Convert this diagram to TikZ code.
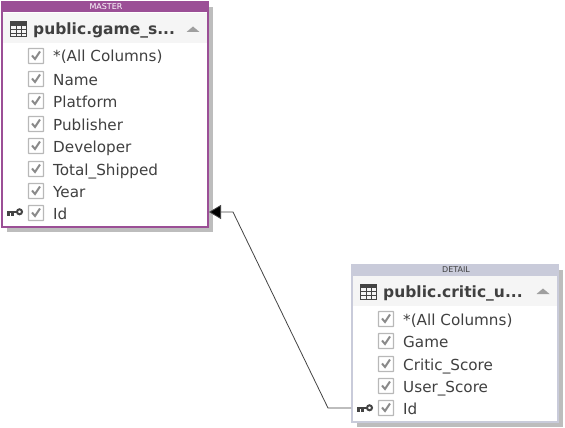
\documentclass[tikz,border=0pt]{standalone}
\usepackage{fontspec}
\setmainfont{DejaVu Sans}
\usetikzlibrary{arrows.meta}
\definecolor{masterc}{HTML}{9B4F96}
\definecolor{detailc}{HTML}{C9CBDA}
\definecolor{shadowc}{HTML}{BDBDBD}
\definecolor{bandc}{HTML}{F5F5F5}
\definecolor{textc}{HTML}{404040}
\definecolor{iconc}{HTML}{444444}
\definecolor{boxc}{HTML}{B8B8B8}
\definecolor{checkc}{HTML}{8A8A8A}
\tikzset{
  x=1pt,y=-1pt,
  colname/.style={anchor=base west,inner sep=0pt,font=\fontsize{15.2}{17}\selectfont,text=textc},
  titlename/.style={anchor=base west,inner sep=0pt,font=\fontsize{15.5}{18}\selectfont\bfseries,text=textc},
  caption/.style={inner sep=0pt,font=\fontsize{8}{9}\selectfont},
  link/.style={draw=iconc,line width=0.8pt},
}
% \chk{x}{y}: check box with centre x,y
\newcommand{\chk}[2]{%
  \draw[boxc,line width=1.2pt,fill=white,rounded corners=0.5pt] (#1-7.5,#2-7.5) rectangle (#1+7.5,#2+7.5);
  \draw[checkc,line width=2pt] (#1-4,#2-0.5) -- (#1-1,#2+3) -- (#1+4,#2-4.5);
}
% \tabicon{x}{y}: grid icon with upper left corner x,y
\newcommand{\tabicon}[2]{%
  \fill[iconc] (#1,#2) rectangle (#1+17,#2+4);
  \draw[iconc,line width=1pt] (#1+0.5,#2) rectangle (#1+16.5,#2+15);
  \draw[iconc,line width=0.8pt] (#1,#2+7) -- (#1+17,#2+7) (#1,#2+11) -- (#1+17,#2+11)
     (#1+6,#2+3) -- (#1+6,#2+15) (#1+11,#2+3) -- (#1+11,#2+15);
}
% \keyicon{x}{y}: key whose bow is at right, centre line y, left end x
\newcommand{\keyicon}[2]{%
  \fill[iconc] (#1,#2-1.5) rectangle (#1+11,#2+1);
  \fill[iconc] (#1,#2) rectangle (#1+2.5,#2+3.5);
  \fill[iconc] (#1+4,#2) rectangle (#1+6.5,#2+3.5);
  \draw[iconc,line width=2pt] (#1+12.5,#2-0.2) circle[radius=2.5];
}
\newcommand{\caret}[2]{%
  \fill[gray!75] (#1-6.5,#2+3) -- (#1,#2-2.5) -- (#1+6.5,#2+3) -- cycle;
}
\begin{document}
\begin{tikzpicture}
\useasboundingbox (0,0) rectangle (565,428);
\fill[white] (0,0) rectangle (565,428);
% MASTER table
\fill[shadowc] (7,7) rectangle (213,232);
\fill[white] (1,1) rectangle (209,228);
\fill[bandc] (3,13) rectangle (207,43);
\draw[masterc,line width=2pt] (2,2) rectangle (208,227);
\fill[masterc] (1,1) rectangle (209,12);
\node[caption,text=white] (mcap) at (106,6.5) {MASTER};
\tabicon{10}{22}
\node[titlename] (mtitle) at (33,35) {public.game\_s...};
\caret{193}{29}
\foreach \yy/\tt in {56/*(All Columns),79/Name,101/Platform,124/Publisher,146/Developer,169/Total\_Shipped,191/Year,213/Id}{
  \chk{36}{\yy}
  \node[colname] at (53,\yy+6) {\tt};
}
\keyicon{7}{212}
\coordinate (mport) at (209,212);
% DETAIL table
\fill[shadowc] (357,270) rectangle (563,427);
\fill[white] (351,264) rectangle (559,423);
\fill[bandc] (353,276) rectangle (557,306);
\draw[detailc,line width=2pt] (352,265) rectangle (558,422);
\fill[detailc] (351,264) rectangle (559,276);
\node[caption,text=textc] (dcap) at (456,270) {DETAIL};
\tabicon{360}{284}
\node[titlename] (dtitle) at (383,297) {public.critic\_u...};
\caret{543}{291}
\foreach \yy/\tt in {319/*(All Columns),341/Game,364/Critic\_Score,386/User\_Score,408/Id}{
  \chk{386}{\yy}
  \node[colname] at (403,\yy+6) {\tt};
}
\keyicon{357}{408}
\coordinate (dport) at (351,408);
\coordinate (bendd) at (328,408);
\coordinate (bendm) at (233,212);
% connector
\draw[link,-{Triangle[length=12pt,width=14pt,fill=black]}] (dport) -- (bendd) -- (bendm) -- (mport);
\end{tikzpicture}
\end{document}
